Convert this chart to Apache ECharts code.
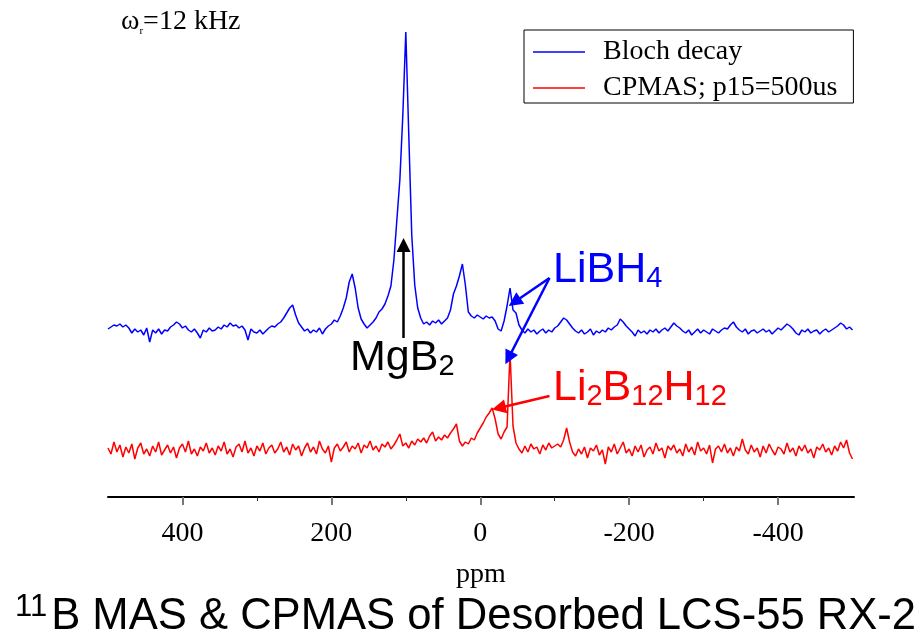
<!DOCTYPE html>
<html>
<head>
<meta charset="utf-8">
<script src="https://cdn.jsdelivr.net/npm/echarts@6/dist/echarts.min.js"></script>
<style>html,body{margin:0;padding:0;background:#fff}#c{width:921px;height:643px}</style>
</head>
<body>
<div id="c"></div>
<script>
// chemical-shift grid (ppm), first point and spacing
const ppmStart = 500;
const ppmStep = -4;

// Bloch decay (blue) intensity above its baseline, one value per grid point
const blochDecay = [
 1,3,5,4,6,3,5,2,-3,1,
 -2,0,-5,2,-12,0,-3,1,-4,0,
 -1,3,5,8,6,2,4,0,-2,1,
 -3,-8,0,-2,2,-1,0,3,1,5,
 3,7,4,5,2,4,0,-10,1,-2,
 -3,0,-4,-1,2,4,3,6,8,12,
 17,22,25,15,7,3,-1,1,-3,0,
 -2,2,-4,1,4,6,10,8,14,22,
 32,48,56,42,22,11,6,2,5,8,
 12,18,21,26,34,44,70,110,150,215,
 298,195,95,45,22,12,6,8,5,9,
 7,10,6,9,12,20,36,44,54,66,
 45,18,14,12,15,13,11,14,12,13,
 9,1,-1,9,24,42,20,17,5,0,
 -3,1,-2,0,-4,-1,1,-3,0,-2,
 2,4,8,12,10,6,2,-1,-3,0,
 -4,-2,1,-5,-1,-3,0,-2,2,0,
 3,5,11,8,4,1,-2,-6,0,-3,
 -1,-4,0,-2,1,-3,0,2,-1,3,
 7,4,2,-1,-3,0,-5,-2,1,-3,
 0,-2,-4,1,-1,-3,0,2,1,5,
 8,3,0,-2,1,-4,-1,0,-3,-1,
 1,-2,0,-4,-1,2,0,3,6,4,
 1,-3,-5,0,-2,1,-3,-1,0,-4,
 -1,1,-2,0,2,4,7,5,1,3,
 0
];

// CPMAS (red) intensity above its baseline, one value per grid point
const cpmas = [
 2,-4,8,-2,5,-7,3,-3,6,-9,
 2,7,-4,1,-6,4,-2,8,-5,0,
 5,-3,3,-8,2,6,-2,9,-4,1,
 -6,3,-1,7,-3,2,-5,4,-1,8,
 -4,1,-7,3,6,-2,9,-3,2,-6,
 4,-1,7,-4,2,5,-3,1,8,-2,
 3,-5,6,0,4,-6,2,7,-2,3,
 -4,9,1,-3,4,-12,2,6,-1,3,
 8,-2,4,1,7,-3,5,2,9,0,
 4,-2,6,3,8,1,5,10,16,4,
 7,2,9,5,11,8,12,7,14,18,
 9,13,10,15,12,17,21,26,9,4,
 8,6,12,10,17,22,27,33,37,42,
 31,16,11,18,23,97,24,7,1,-3,
 4,-2,6,1,3,-4,5,0,7,2,
 4,6,3,10,22,8,-2,-6,1,-4,
 3,-8,2,-1,5,-5,0,-14,3,-2,
 6,-4,2,8,-3,1,-6,4,-2,5,
 -7,0,3,-4,7,-1,2,-8,4,0,
 5,-3,1,-6,6,-2,3,-5,8,-1,
 2,-4,5,-13,1,4,-2,6,-3,2,
 -6,3,-1,11,0,-4,5,-2,2,-7,
 4,-3,6,0,-5,3,1,-4,7,-2,
 2,-6,4,-1,5,-3,1,-8,3,0,
 6,-2,2,-5,4,-1,8,2,10,-3,
 -9
];

// vertical placement of each trace (stacked spectra)
const blochOffset = 167;
const cpmasOffset = 47;

const seriesNames = ['Bloch decay', 'CPMAS; p15=500us'];
const majorTicks = [400, 200, 0, -200, -400];
const minorTicks = [300, 100, -100, -300];
const xMin = -502, xMax = 500;

// annotation arrows: [from ppm, from intensity, to ppm, to intensity]
const arrowMgB2 = [103, 159, 103, 252];
const arrowLiBH4a = [-93, 219, -46, 195];
const arrowLiBH4b = [-93, 219, -38, 139];
const arrowLi2B12H12 = [-93, 101, -25, 89];

const ppm = blochDecay.map((_, i) => ppmStart + ppmStep * i);
const blueData = blochDecay.map((v, i) => [ppm[i], v + blochOffset]);
const redData = cpmas.map((v, i) => [ppm[i], v + cpmasOffset]);

const SERIF = '"Liberation Serif", "Times New Roman", serif';
const SANS = '"Liberation Sans", Arial, sans-serif';

function arrow(a, color) {
  return [
    { coord: [a[0], a[1]], lineStyle: { color: color } },
    { coord: [a[2], a[3]] }
  ];
}

const chart = echarts.init(document.getElementById('c'), null, { renderer: 'canvas' });
chart.setOption({
  animation: false,
  backgroundColor: '#ffffff',
  title: {
    left: 10, top: 587,
    text: '{sup|11}{m|B MAS & CPMAS of Desorbed LCS-55 RX-2}',
    textStyle: {
      fontWeight: 'normal',
      rich: {
        sup: { fontFamily: SANS, fontWeight: 'normal', fontSize: 31, color: '#000', verticalAlign: 'top', lineHeight: 30, padding: [0, 4, 0, 0] },
        m: { fontFamily: SANS, fontWeight: 'normal', fontSize: 43.6, color: '#000', lineHeight: 50 }
      }
    }
  },
  legend: {
    left: 524, top: 30,
    orient: 'vertical',
    data: seriesNames,
    icon: 'rect',
    borderColor: '#000', borderWidth: 1,
    padding: [8, 16, 1, 9],
    itemWidth: 52, itemHeight: 1.5, itemGap: 8,
    textStyle: { fontFamily: SERIF, fontSize: 28, color: '#000', padding: [0, 0, 0, 13] }
  },
  grid: { left: 108, right: 67, top: 20, bottom: 146 },
  xAxis: [{
    type: 'value', min: xMin, max: xMax, inverse: true,
    axisLine: { show: true, lineStyle: { color: '#000', width: 2 } },
    axisTick: { show: true, customValues: majorTicks, length: 8, lineStyle: { color: '#777', width: 2 } },
    axisLabel: { customValues: majorTicks, fontFamily: SERIF, fontSize: 28, color: '#000', margin: 23 },
    splitLine: { show: false },
    name: 'ppm', nameLocation: 'middle', nameGap: 64,
    nameTextStyle: { fontFamily: SERIF, fontSize: 28, color: '#000' }
  }, {
    type: 'value', min: xMin, max: xMax, inverse: true, position: 'bottom',
    axisLine: { show: false },
    axisTick: { show: true, customValues: minorTicks, length: 4, lineStyle: { color: '#333', width: 1 } },
    axisLabel: { show: false },
    splitLine: { show: false }
  }],
  yAxis: { type: 'value', min: 0, max: 477, show: false },
  series: [{
    name: seriesNames[0], type: 'line', data: blueData, symbol: 'none',
    lineStyle: { color: '#0000ff', width: 1.5 }, itemStyle: { color: '#0000ff' },
    z: 2,
    markLine: {
      silent: true, symbol: ['none', 'triangle'], symbolSize: 14,
      label: { show: false }, lineStyle: { type: 'solid', width: 2.5, color: '#0000ff' },
      data: [arrow(arrowLiBH4a, '#0000ff'), arrow(arrowLiBH4b, '#0000ff'), arrow(arrowMgB2, '#000000')]
    }
  }, {
    name: seriesNames[1], type: 'line', data: redData, symbol: 'none',
    lineStyle: { color: '#ff0000', width: 1.5 }, itemStyle: { color: '#ff0000' },
    z: 3,
    markLine: {
      silent: true, symbol: ['none', 'triangle'], symbolSize: 14,
      label: { show: false }, lineStyle: { type: 'solid', width: 2.5, color: '#ff0000' },
      data: [arrow(arrowLi2B12H12, '#ff0000')]
    }
  }],
  graphic: [
    { type: 'text', left: 121, top: 8, style: {
      text: '{a|ω}{s|r}{a|=12 kHz}',
      rich: {
        a: { fontFamily: SERIF, fontSize: 28, fill: '#000', lineHeight: 30 },
        s: { fontFamily: SERIF, fontSize: 11, fill: '#000', verticalAlign: 'bottom', lineHeight: 10 }
      } } },
    { type: 'text', left: 350, top: 337, style: {
      text: '{m|MgB}{s|2}',
      rich: {
        m: { fontFamily: SANS, fontSize: 43, fill: '#000', lineHeight: 46 },
        s: { fontFamily: SANS, fontSize: 29, fill: '#000', verticalAlign: 'bottom', lineHeight: 14 }
      } } },
    { type: 'text', left: 553, top: 249, style: {
      text: '{m|LiBH}{s|4}',
      rich: {
        m: { fontFamily: SANS, fontSize: 43, fill: '#0000ff', lineHeight: 46 },
        s: { fontFamily: SANS, fontSize: 29, fill: '#0000ff', verticalAlign: 'bottom', lineHeight: 14 }
      } } },
    { type: 'text', left: 553, top: 367, style: {
      text: '{m|Li}{s|2}{m|B}{s|12}{m|H}{s|12}',
      rich: {
        m: { fontFamily: SANS, fontSize: 43, fill: '#ff0000', lineHeight: 46 },
        s: { fontFamily: SANS, fontSize: 29, fill: '#ff0000', verticalAlign: 'bottom', lineHeight: 14 }
      } } }
  ]
});
</script>
</body>
</html>
